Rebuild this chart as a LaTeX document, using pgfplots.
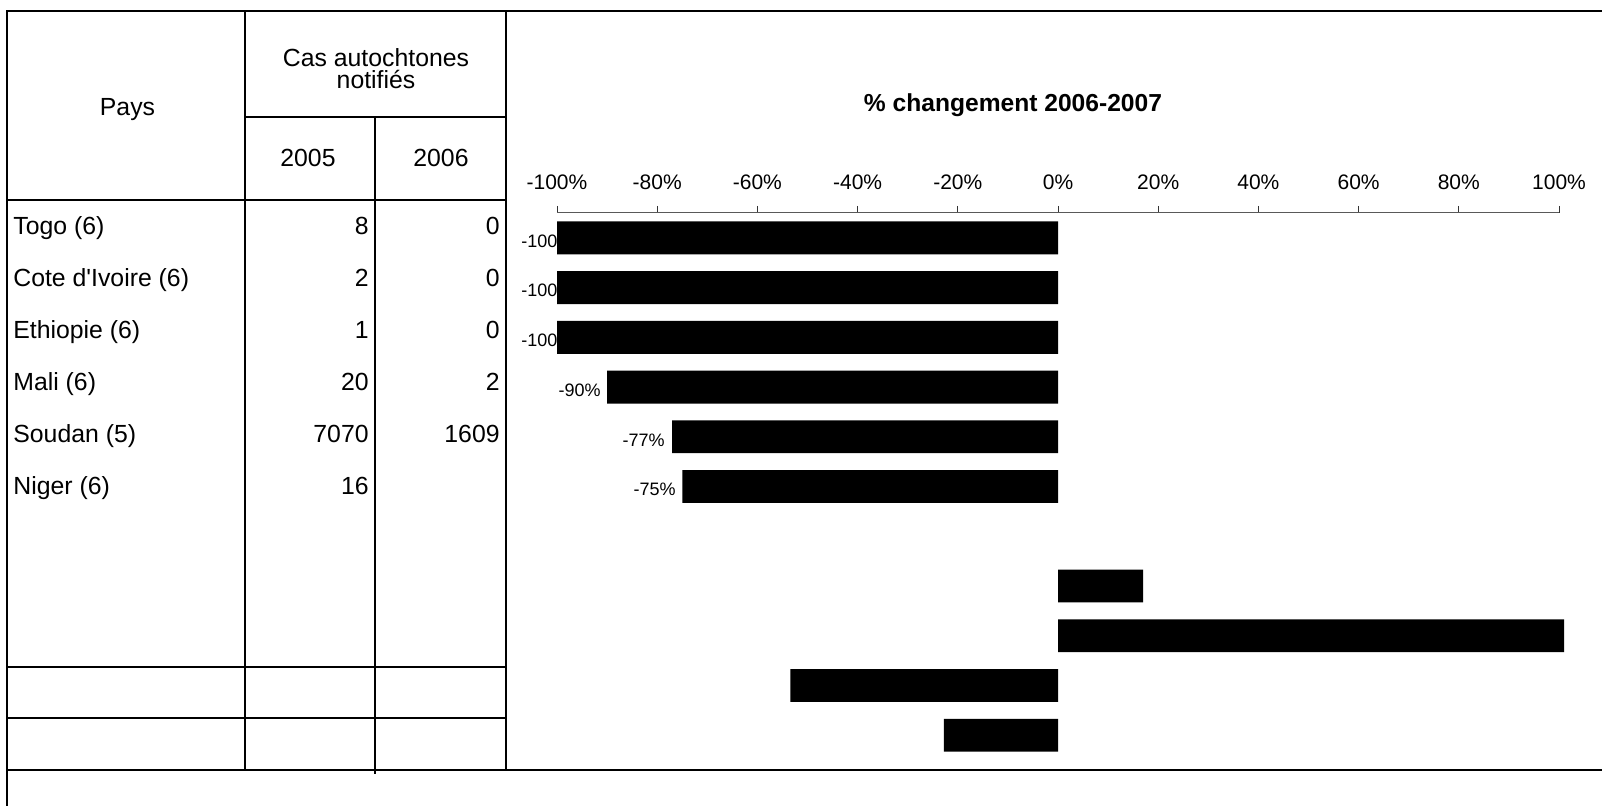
\documentclass[border=0pt]{standalone}
\usepackage{pgfplots}
\pgfplotsset{compat=1.18}
\usepackage{fontspec}
\setmainfont{Liberation Sans}[Ligatures=TeXOff]
\newcommand{\tf}{\fontsize{12.4}{14}\selectfont}
\begin{document}
\begin{tikzpicture}
\useasboundingbox (0,0) rectangle (801pt,-403pt);
% table frame
\begin{scope}[line width=1.2pt]
\draw (3.5pt,-420pt) -- (3.5pt,-5.5pt) -- (820pt,-5.5pt);
\draw (3.5pt,-385pt) -- (820pt,-385pt);
\draw (3.5pt,-100pt) -- (253pt,-100pt);
\draw (122.5pt,-58.5pt) -- (253pt,-58.5pt);
\draw (122.5pt,-5.5pt) -- (122.5pt,-385pt);
\draw (187.5pt,-58.5pt) -- (187.5pt,-387pt);
\draw (253pt,-5.5pt) -- (253pt,-385pt);
\draw (3.5pt,-333.5pt) -- (253pt,-333.5pt);
\draw (3.5pt,-359pt) -- (253pt,-359pt);
\end{scope}
% header text
\node[anchor=base,inner sep=0pt] at (63.75pt,-58pt) {\tf Pays};
\node[anchor=base,inner sep=0pt] at (188pt,-33.5pt) {\tf Cas autochtones};
\node[anchor=base,inner sep=0pt] at (188pt,-44.5pt) {\tf notifiés};
\node[anchor=base,inner sep=0pt] at (154pt,-83.3pt) {\tf 2005};
\node[anchor=base,inner sep=0pt] at (220.5pt,-83.3pt) {\tf 2006};
% rows
\foreach \n/\a/\b [count=\i from 0] in {Togo (6)/8/0, Cote d'Ivoire (6)/2/0, Ethiopie (6)/1/0, Mali (6)/20/2, Soudan (5)/7070/1609, Niger (6)/16/{}}{
  \node[anchor=base west,inner sep=0pt] at (6.5pt,{-117.5pt-26pt*\i}) {\tf \n};
  \node[anchor=base east,inner sep=0pt] at (184.5pt,{-117.5pt-26pt*\i}) {\tf \a};
  \node[anchor=base east,inner sep=0pt] at (250pt,{-117.5pt-26pt*\i}) {\tf \b};
}
% title
\node[anchor=base,inner sep=0pt] at (506.5pt,-56pt) {\fontsize{12.3}{14}\selectfont\bfseries \% changement 2006-2007};
\begin{axis}[
  at={(278.5pt,-106.5pt)}, anchor=north west,
  scale only axis, width=501pt, height=273.6pt,
  xmin=-100, xmax=100, ymin=-10.5, ymax=0.5,
  axis x line*=top, axis y line=none,
  xtick={-100,-80,...,100},
  xticklabels={-100\%,-80\%,-60\%,-40\%,-20\%,0\%,20\%,40\%,60\%,80\%,100\%},
  tick align=outside, major tick length=3.5pt,
  x axis line style={black!65, line width=0.5pt},
  every tick/.style={black!80, line width=0.5pt},
  xticklabel style={font=\fontsize{10.5}{12}\selectfont, anchor=base, inner sep=0pt, yshift=8.15pt},
  ytick=\empty, clip=false,
]
\addplot[draw=none, mark=none, nodes near coords, point meta=explicit symbolic,
  every node near coord/.append style={anchor=center, font=\fontsize{9}{10}\selectfont, inner sep=0pt, yshift=-1.5pt}]
  coordinates {(-101.9,0) [-100\%] (-101.9,-1) [-100\%] (-101.9,-2) [-100\%]
               (-95.5,-3) [-90\%] (-82.7,-4) [-77\%] (-80.5,-5) [-75\%]};
\addplot[xbar, bar width=16.4pt, fill=black, draw=none]
  coordinates {(-100,0) (-100,-1) (-100,-2) (-90,-3) (-77,-4) (-75,-5)
               (17,-7) (101,-8) (-53.4,-9) (-22.8,-10)};
\end{axis}
\end{tikzpicture}
\end{document}
